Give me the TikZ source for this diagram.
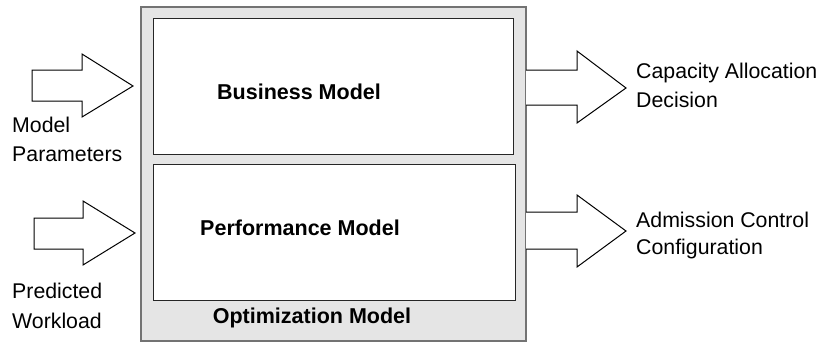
\documentclass[tikz,border=0pt]{standalone}
\usepackage{fontspec}
\setmainfont{Liberation Sans}
\begin{document}
\begin{tikzpicture}[x=1pt,y=-1pt,
  lbl/.style={inner sep=0pt,anchor=base west,font=\fontsize{21.3}{25}\selectfont},
  blbl/.style={inner sep=0pt,anchor=base,font=\fontsize{21.5}{25}\selectfont\bfseries},
  blockarrow/.style={draw=black,fill=white,line width=1pt,line join=miter},
  inner/.style={draw=black!85,fill=white,line width=1pt}]
\useasboundingbox (0,0) rectangle (822,343);
% outer optimization box
\draw[draw=black!55,fill=black!10,line width=1.2pt] (141,7) rectangle (526,341);
\draw[inner] (153,18) rectangle (513,154);
\draw[inner] (153,164) rectangle (515,300);
\node[blbl] (busl) at (299,99) {Business Model};
\node[blbl] (perfl) at (300,235) {Performance Model};
\node[blbl] (optl) at (312,323) {Optimization Model};
% input arrows
\draw[blockarrow] (32,70) -- (82,70) -- (82,54) -- (133,86) -- (82,117) -- (82,101) -- (32,101) -- cycle;
\draw[blockarrow] (34,218) -- (83,218) -- (83,201) -- (135,233) -- (83,265) -- (83,249) -- (34,249) -- cycle;
% output arrows
\draw[blockarrow] (526,70) -- (577,70) -- (577,51) -- (626,88) -- (577,123) -- (577,105) -- (526,105);
\draw[blockarrow] (526,212) -- (577,212) -- (577,195) -- (626,231) -- (577,267) -- (577,249) -- (526,249);
% labels
\node[lbl] (mp1) at (12,132) {Model};
\node[lbl] (mp2) at (12,161) {Parameters};
\node[lbl] (pw1) at (12,298) {Predicted};
\node[lbl] (pw2) at (12,328) {Workload};
\node[lbl] (ca1) at (636,78) {Capacity Allocation};
\node[lbl] (ca2) at (636,107) {Decision};
\node[lbl] (ac1) at (636,227) {Admission Control};
\node[lbl] (ac2) at (636,254) {Configuration};
\end{tikzpicture}
\end{document}
